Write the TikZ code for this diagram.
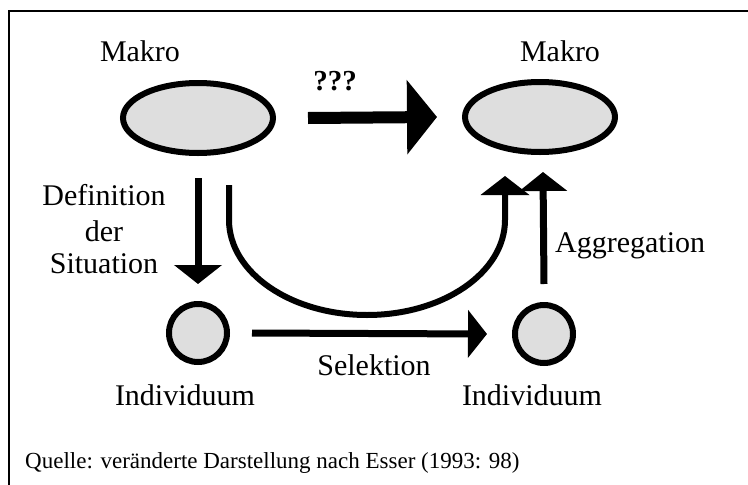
\documentclass[tikz,border=0pt]{standalone}
\usepackage{fontspec}
\setmainfont{Liberation Serif}
\usetikzlibrary{shapes.geometric,arrows.meta}
\begin{document}
\begin{tikzpicture}[x=1pt,y=-1pt,
  lbl/.style={font=\fontsize{30}{34}\selectfont, inner sep=0pt},
  oval/.style={ellipse, draw, line width=6pt, fill=black!13, minimum width=150pt, minimum height=70pt, inner sep=0pt},
  dot/.style={circle, draw, line width=6pt, fill=black!13, minimum size=58pt, inner sep=0pt},
  arr/.style={line width=7pt, -{Triangle[width=47pt,length=19pt]}},
  bigarr/.style={line width=12pt, -{Triangle[width=73pt,length=30pt]}}]
\useasboundingbox (0,0) rectangle (748,485);
\draw[line width=2.5pt] (9,485) -- (9,11) -- (748,11);
% shapes
\node[oval] (m1) at (198,118) {};
\node[oval] (m2) at (540,117) {};
\node[dot] (i1) at (198,333) {};
\node[dot] (i2) at (544,334) {};
% labels
\node[lbl, anchor=base] (t1) at (140,61) {Makro};
\node[lbl, anchor=base] (t2) at (560,61) {Makro};
\node[font=\bfseries\fontsize{29}{32}\selectfont, inner sep=0pt, anchor=base] (q) at (335,90) {???};
\node[lbl, anchor=base] (d1) at (104,205) {Definition};
\node[lbl, anchor=base] (d2) at (104,241) {der};
\node[lbl, anchor=base] (d3) at (104,273) {Situation};
\node[lbl, anchor=base] (ind1) at (185,405) {Individuum};
\node[lbl, anchor=base] (ind2) at (532,405) {Individuum};
\node[lbl, anchor=base west] (agg) at (555,252) {Aggregation};
\node[lbl, anchor=base] (sel) at (374,375) {Selektion};
\node[font=\fontsize{23}{27}\selectfont, inner sep=0pt, anchor=base west] (src) at (25,468) {Quelle: veränderte Darstellung nach Esser (1993: 98)};
% connectors
\coordinate (c1) at ([xshift=31pt,yshift=-29pt]m1.south);
\coordinate (c2) at ([xshift=-35pt,yshift=-21pt]m2.south);
\draw[bigarr] ([xshift=32pt]m1.east) -- ([xshift=-25pt]m2.west);
\draw[arr] ([yshift=-22pt]m1.south) -- ([yshift=17pt]i1.north);
\draw[arr] ([xshift=22pt]i1.east) -- ([xshift=-25pt]i2.west);
\draw[arr] ([yshift=18pt]i2.north) -- ([yshift=-17pt,xshift=3pt]m2.south);
\draw[line width=6pt, -{Triangle[width=48pt,length=19pt]}] (c1) -- (229,220) .. controls (229,272.5) and (290.8,315) .. (367,315) .. controls (443.2,315) and (505,272.5) .. (505,220) -- (c2);
\end{tikzpicture}
\end{document}
